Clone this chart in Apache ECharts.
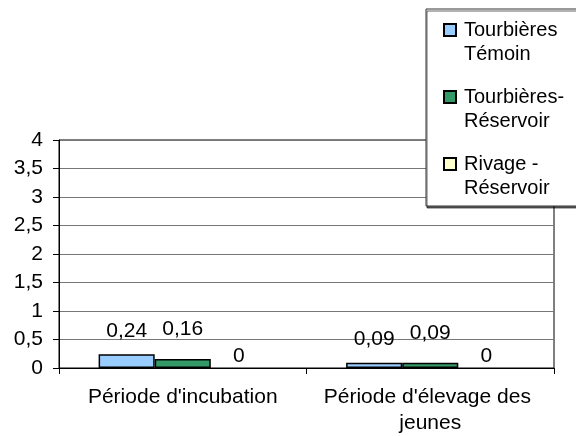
<!DOCTYPE html>
<html>
<head>
<meta charset="utf-8">
<script src="https://cdn.jsdelivr.net/npm/echarts@6/dist/echarts.min.js"></script>
<style>
  html, body { margin: 0; padding: 0; background: #fff; }
  #chart { width: 576px; height: 436px; }
</style>
</head>
<body>
<div id="chart"></div>
<script>
// Periods (categories) and the three habitat series
const categories = ["Période d'incubation", "Période d'élevage des jeunes"];
const tourbieresTemoin = [0.24, 0.09];
const tourbieresReservoir = [0.16, 0.09];
const rivageReservoir = [0, 0];
const yTicks = ['0', '0,5', '1', '1,5', '2', '2,5', '3', '3,5', '4'];

const seriesNames = ['Tourbières\nTémoin', 'Tourbières-\nRéservoir', 'Rivage -\nRéservoir'];
const seriesColors = ['#99CCFF', '#339966', '#FFFFCC'];
const seriesData = [tourbieresTemoin, tourbieresReservoir, rivageReservoir];
const labelDistances = [13, 19, 1];

const FONT = 'Liberation Sans, Arial, sans-serif';

const fmt = v => String(v).replace('.', ',');

const chart = echarts.init(document.getElementById('chart'));
chart.setOption({
  animation: false,
  backgroundColor: '#fff',
  textStyle: { fontFamily: FONT },
  grid: {
    left: 59, right: 22, top: 140, bottom: 64,
    show: true, borderColor: '#000', borderWidth: 1
  },
  xAxis: {
    type: 'category',
    data: categories,
    axisLine: { lineStyle: { color: '#000', width: 1 } },
    axisTick: { show: true, length: 6, lineStyle: { color: '#000' } },
    axisLabel: {
      interval: 0, margin: 16, color: '#000', fontSize: 21, lineHeight: 26,
      fontFamily: FONT, width: 240, overflow: 'break'
    }
  },
  yAxis: {
    type: 'value',
    min: 0, max: 4, interval: 0.5,
    axisLine: { show: true, lineStyle: { color: '#000', width: 1 } },
    axisTick: { show: true, length: 6, lineStyle: { color: '#000' } },
    splitLine: { lineStyle: { color: '#777', width: 1 } },
    axisLabel: {
      margin: 16, color: '#000', fontSize: 21, fontFamily: FONT,
      formatter: v => yTicks[Math.round(v / 0.5)]
    }
  },
  legend: {
    orient: 'vertical',
    left: 443, top: -6,
    padding: 0,
    itemGap: -5,
    itemWidth: 12, itemHeight: 12,
    icon: 'rect',
    z: 6,
    // leading blank line keeps the swatch level with the first text line
    formatter: name => '\n' + name,
    textStyle: {
      fontSize: 20, lineHeight: 24, color: '#000', fontFamily: FONT,
      padding: [0, 0, 0, 3]
    },
    data: seriesNames
  },
  graphic: [{
    type: 'rect',
    z: 5,
    shape: { x: 426, y: 9, width: 170, height: 197 },
    style: {
      fill: '#fff', stroke: '#333', lineWidth: 1,
      shadowColor: 'rgba(0,0,0,0.6)', shadowOffsetX: 1, shadowOffsetY: 2, shadowBlur: 0
    }
  }],
  series: seriesNames.map((name, i) => ({
    name: name,
    type: 'bar',
    // empty bars get no outline so nothing shows at zero
    data: seriesData[i].map(v => v === 0 ? { value: v, itemStyle: { borderWidth: 0 } } : v),
    barGap: '0%',
    barCategoryGap: '32%',
    itemStyle: { color: seriesColors[i], borderColor: '#000', borderWidth: 1.5 },
    label: {
      show: true, position: 'top', distance: labelDistances[i],
      color: '#000', fontSize: 21, fontFamily: FONT,
      formatter: p => fmt(p.value)
    }
  }))
});
</script>
</body>
</html>
